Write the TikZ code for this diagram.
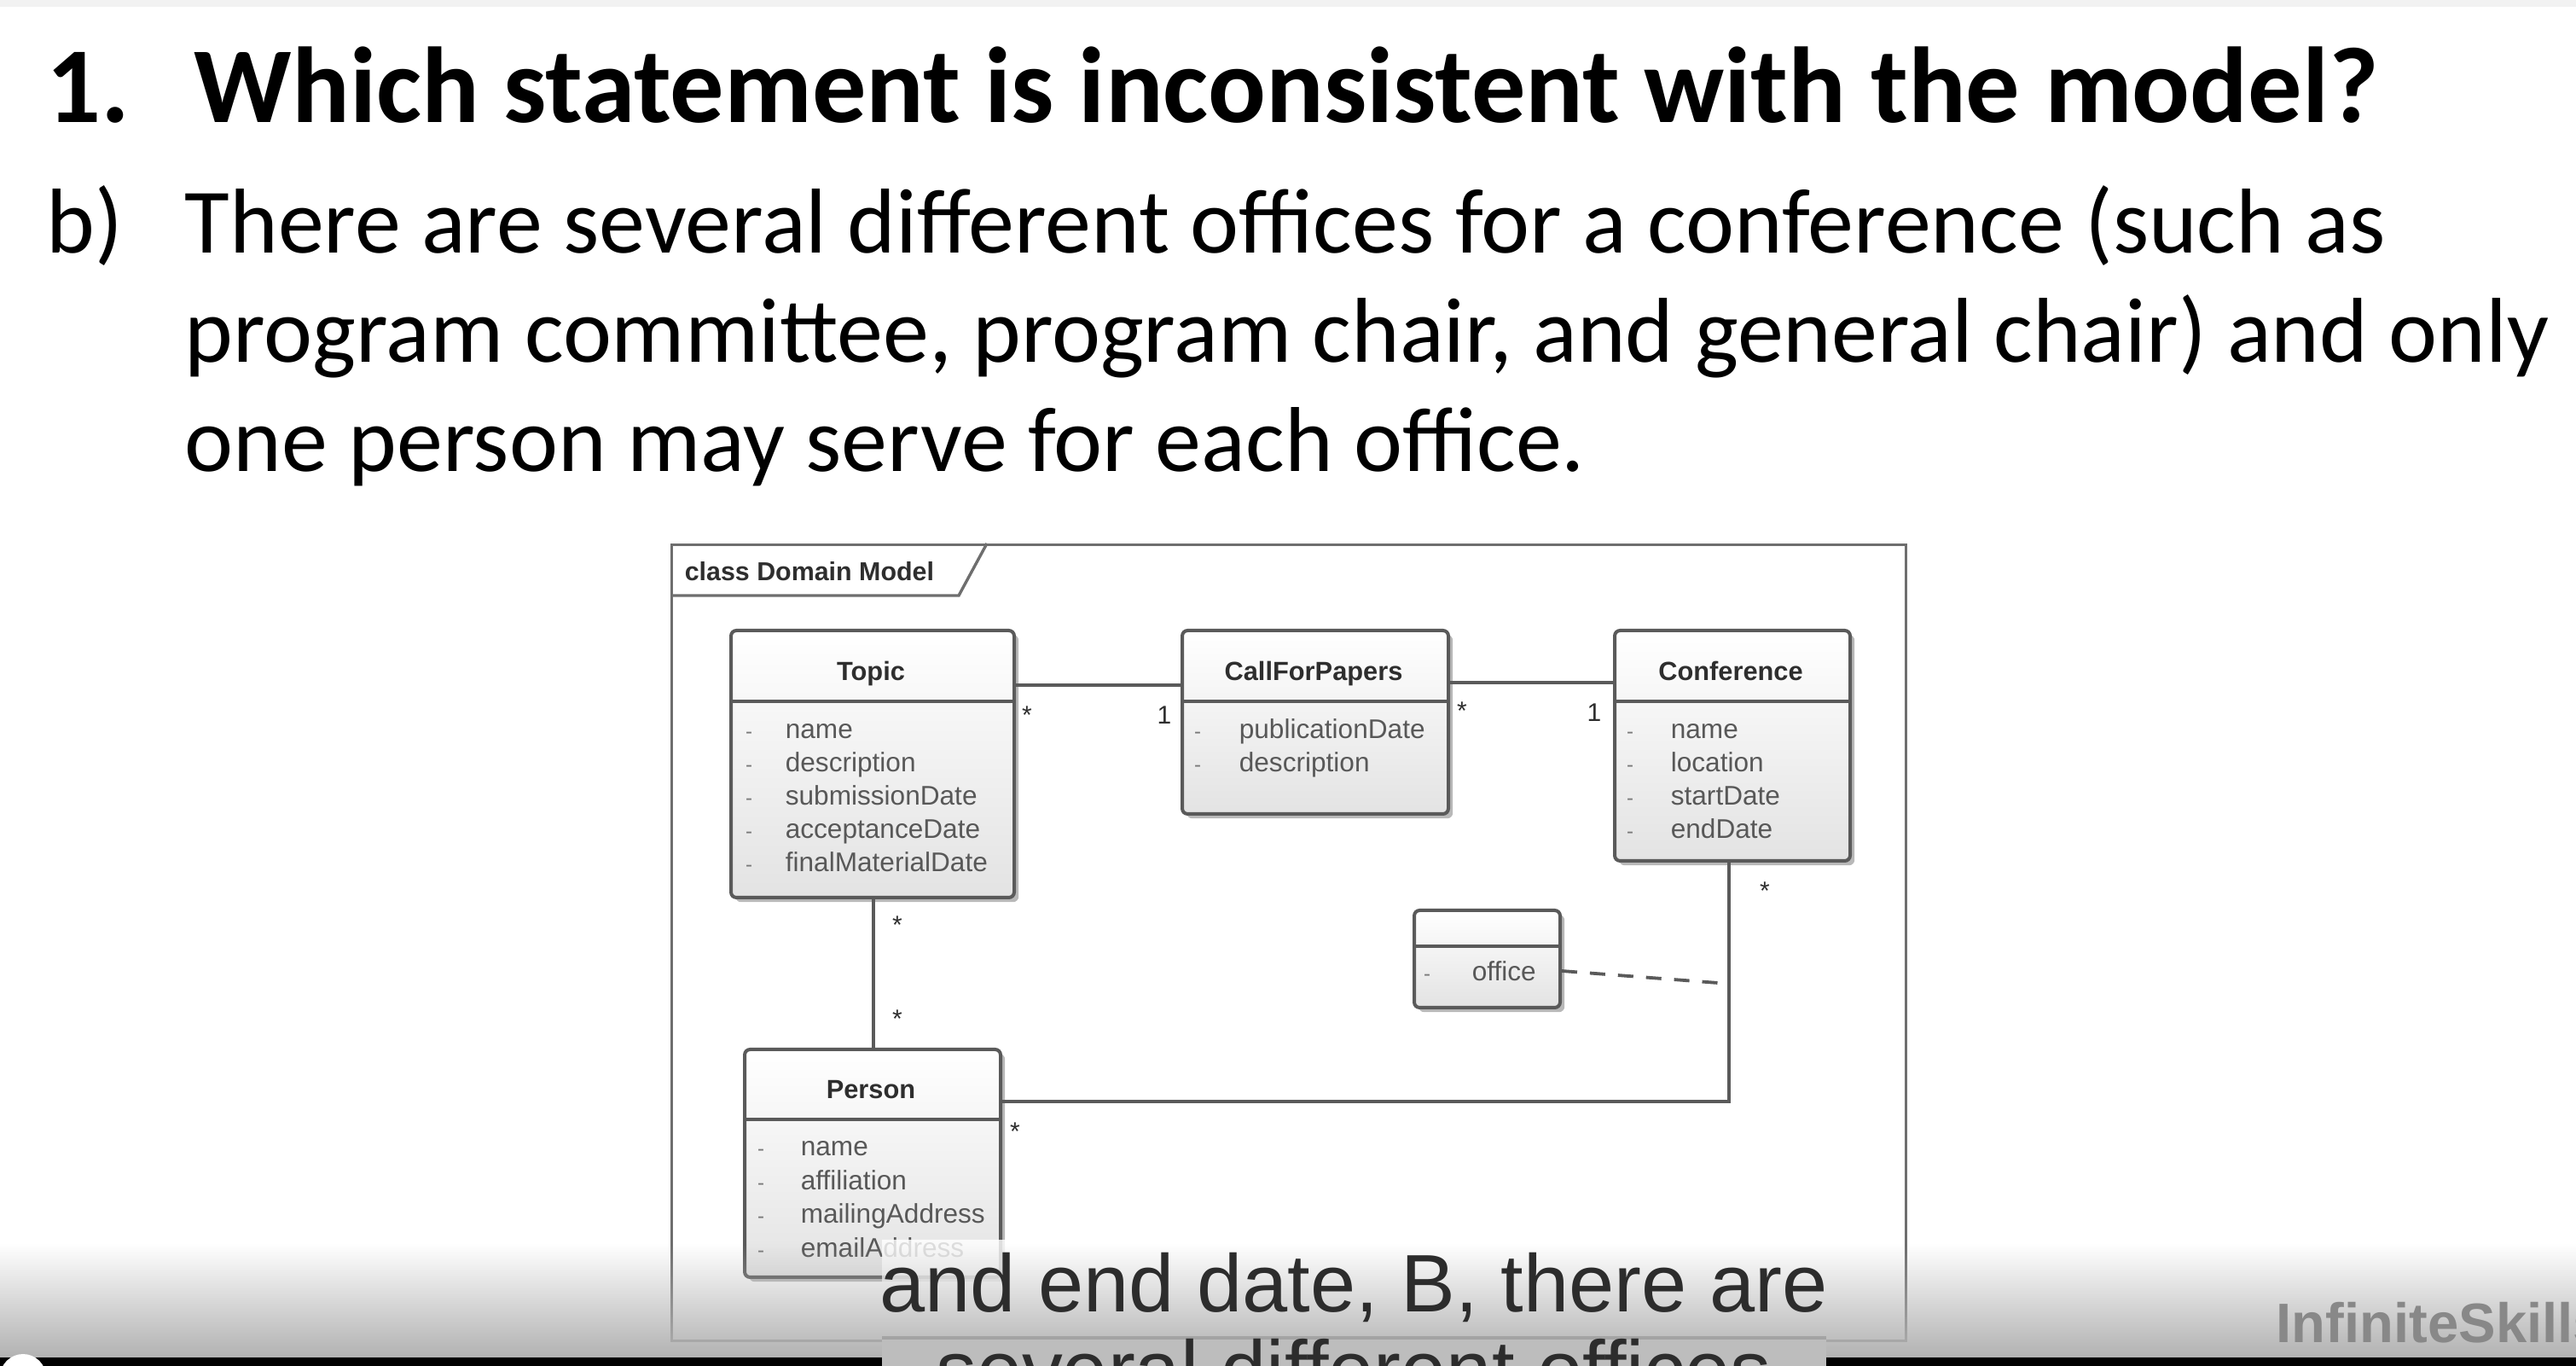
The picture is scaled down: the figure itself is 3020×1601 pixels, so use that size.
\documentclass[tikz,border=0pt]{standalone}
\usepackage{fontspec}
\setmainfont{Carlito}
\newfontfamily\umlfont{Liberation Sans}
\newfontfamily\capfont{Liberation Sans}
\usetikzlibrary{shadows,fadings}

\definecolor{umlline}{HTML}{5A5A5A}
\definecolor{umltext}{HTML}{2E2E2E}
\definecolor{umlbullet}{HTML}{7A7A7A}
\definecolor{framegray}{HTML}{6E6E6E}
\definecolor{brandgray}{HTML}{888888}
\definecolor{captext}{HTML}{2C2C2C}

\tikzset{
  classbox/.style={draw=umlline, line width=1pt, rounded corners=1.6pt,
    top color=white, bottom color=black!11, inner sep=0pt, anchor=north west,
    drop shadow={shadow xshift=1.3pt, shadow yshift=-1.3pt, opacity=0.28, fill=black}},
  umlrule/.style={draw=umlline, line width=1pt},
  assoc/.style={draw=umlline, line width=0.95pt},
  classname/.style={font=\umlfont\bfseries\fontsize{7.7pt}{9pt}\selectfont, text=umltext, anchor=base, inner sep=0pt},
  attr/.style={font=\umlfont\fontsize{7.9pt}{9pt}\selectfont, text=umltext!80, anchor=base west, inner sep=0pt},
  vis/.style={font=\umlfont\fontsize{6pt}{7pt}\selectfont, text=umlbullet, anchor=base, inner sep=0pt},
  mult/.style={font=\umlfont\fontsize{7.5pt}{9pt}\selectfont, text=umltext, anchor=base, inner sep=0pt},
  framebox/.style={draw=framegray, line width=0.85pt, inner sep=0pt, anchor=north west},
  headline/.style={font=\bfseries\fontsize{31.6pt}{38pt}\selectfont, anchor=base west, inner sep=0pt},
  bodyline/.style={font=\fontsize{27pt}{32pt}\selectfont, anchor=base west, inner sep=0pt},
  captionline/.style={font=\capfont\fontsize{23.9pt}{28pt}\selectfont, text=captext, anchor=base, inner sep=0pt},
}

\begin{document}
\begin{tikzpicture}[x=0.25pt,y=-0.25pt]
\useasboundingbox (0,0) rectangle (3020,1601);
\clip (0,0) rectangle (3020,1601);
\fill[white] (0,0) rectangle (3020,1601);
\fill[black!5] (0,0) rectangle (3020,8);

% question heading and answer text
\node[headline] (qnum) at (54,144) {1.};
\node[headline] (qtext) at (227,144) {Which statement is inconsistent with the model?};
\node[bodyline] (optb) at (54,297) {b)};
\node[bodyline] (optb1) at (216,297) {There are several different offices for a conference (such as};
\node[bodyline] (optb2) at (216,425) {program committee, program chair, and general chair) and only};
\node[bodyline] (optb3) at (216,553) {one person may serve for each office.};

% diagram frame with its name tab
\node[framebox, minimum width=361.75pt, minimum height=233.25pt] (frame) at (786,637) {};
\draw[draw=framegray, line width=0.85pt] (frame.north west |- 0,698) -- (1124,698) -- (1157,637);
\node[font=\umlfont\bfseries\fontsize{7.6pt}{9pt}\selectfont, text=umltext, anchor=base west, inner sep=0pt] (frametitle) at (802,681) {class Domain Model};

% classes
\node[classbox, minimum width=83pt, minimum height=78.25pt] (topic) at (855,737) {};
\node[classbox, minimum width=78pt, minimum height=53.75pt] (cfp) at (1384,737) {};
\node[classbox, minimum width=69pt, minimum height=67.5pt] (conf) at (1891,737) {};
\node[classbox, minimum width=75pt, minimum height=66.75pt] (person) at (871,1228) {};
\node[classbox, minimum width=42.75pt, minimum height=28.5pt] (office) at (1656,1065) {};

\draw[umlrule] (topic.west |- 0,822) -- (topic.east |- 0,822);
\draw[umlrule] (cfp.west |- 0,822) -- (cfp.east |- 0,822);
\draw[umlrule] (conf.west |- 0,822) -- (conf.east |- 0,822);
\draw[umlrule] (person.west |- 0,1312) -- (person.east |- 0,1312);
\draw[umlrule] (office.west |- 0,1109) -- (office.east |- 0,1109);

\node[classname] (topicname) at (1021,798) {Topic};
\node[classname] (cfpname) at (1540,798) {CallForPapers};
\node[classname] (confname) at (2029,798) {Conference};
\node[classname] (personname) at (1021,1288) {Person};

% Topic attributes
\node[vis] (tv1) at (878,866) {-}; \node[attr] (ta1) at (920,866) {name};
\node[vis] (tv2) at (878,905) {-}; \node[attr] (ta2) at (920,905) {description};
\node[vis] (tv3) at (878,944) {-}; \node[attr] (ta3) at (920,944) {submissionDate};
\node[vis] (tv4) at (878,983) {-}; \node[attr] (ta4) at (920,983) {acceptanceDate};
\node[vis] (tv5) at (878,1022) {-}; \node[attr] (ta5) at (920,1022) {finalMaterialDate};

% CallForPapers attributes
\node[vis] (cv1) at (1404,866) {-}; \node[attr] (ca1) at (1452,866) {publicationDate};
\node[vis] (cv2) at (1404,905) {-}; \node[attr] (ca2) at (1452,905) {description};

% Conference attributes
\node[vis] (fv1) at (1911,866) {-}; \node[attr] (fa1) at (1958,866) {name};
\node[vis] (fv2) at (1911,905) {-}; \node[attr] (fa2) at (1958,905) {location};
\node[vis] (fv3) at (1911,944) {-}; \node[attr] (fa3) at (1958,944) {startDate};
\node[vis] (fv4) at (1911,983) {-}; \node[attr] (fa4) at (1958,983) {endDate};

% Person attributes
\node[vis] (pv1) at (892,1355) {-}; \node[attr] (pa1) at (938,1355) {name};
\node[vis] (pv2) at (892,1395) {-}; \node[attr] (pa2) at (938,1395) {affiliation};
\node[vis] (pv3) at (892,1434) {-}; \node[attr] (pa3) at (938,1434) {mailingAddress};
\node[vis] (pv4) at (892,1474) {-}; \node[attr] (pa4) at (938,1474) {emailAddress};

% association class attribute
\node[vis] (ov1) at (1673,1150) {-}; \node[attr] (oa1) at (1725,1150) {office};

% associations
\draw[assoc] (topic.east |- 0,803) -- (cfp.west |- 0,803);
\draw[assoc] (cfp.east |- 0,800) -- (conf.west |- 0,800);
\draw[assoc] (topic.south -| 1024,0) -- (person.north -| 1024,0);
\draw[assoc] (person.east |- 0,1291) -| (conf.south -| 2027,0);
\coordinate (officelink) at (2027,1153);
\draw[assoc, dash pattern=on 4.5pt off 3.75pt] (office.east |- 0,1138) -- (officelink);

% multiplicities
\node[mult] (m1) at (1204,849) {*};
\node[mult] (m2) at (1365,849) {1};
\node[mult] (m3) at (1714,844) {*};
\node[mult] (m4) at (1869,846) {1};
\node[mult] (m5) at (1052,1095) {*};
\node[mult] (m6) at (1052,1205) {*};
\node[mult] (m7) at (2069,1055) {*};
\node[mult] (m8) at (1190,1337) {*};

% video caption and player overlay
\fill[white, opacity=0.8] (1034,1453) rectangle (2141,1567);
\fill[black!30, path fading=north] (0,1458) rectangle (3020,1591);
\node[captionline] (cap1) at (1587,1538) {and end date, B, there are};
\fill[black!26] (1034,1567) rectangle (2141,1601);
\draw[black!36, line width=0.8pt] (1034,1568) -- (2141,1568);
\node[captionline] (cap2) at (1587,1639) {several different offices};
\fill[black] (0,1591) rectangle (1034,1601);
\fill[black] (2141,1591) rectangle (3020,1601);
\fill[white] (27,1614) circle (6.75pt);
\node[font=\capfont\bfseries\fontsize{16.3pt}{19pt}\selectfont, text=brandgray, anchor=base west, inner sep=0pt] (brand) at (2668,1574) {InfiniteSkills};
\end{tikzpicture}
\end{document}
